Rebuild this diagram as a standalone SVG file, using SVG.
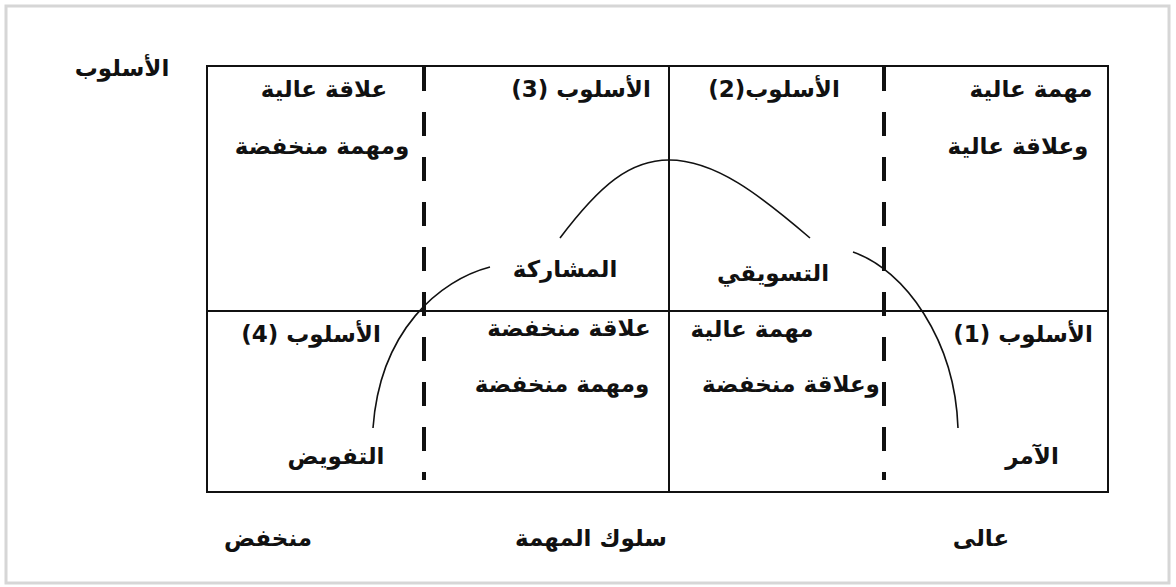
<svg xmlns="http://www.w3.org/2000/svg" width="1176" height="587" viewBox="0 0 1176 587">
<style>
.t{font-family:"DejaVu Sans",sans-serif;font-weight:bold;font-size:23px;fill:#111;text-anchor:middle;direction:rtl}
.grid{stroke:#111;stroke-width:2;fill:none}
.dash{stroke:#111;stroke-width:4;stroke-dasharray:24 21;fill:none}
.curve{stroke:#111;stroke-width:1.6;fill:none}
</style>
<rect x="0" y="0" width="1176" height="587" fill="#fff"/>
<rect id="frame" x="6" y="6" width="1163" height="577" fill="#fff" stroke="#d6d6d6" stroke-width="3"/>
<g id="grid">
<rect x="207" y="66" width="901" height="426" class="grid" stroke-width="2.5"/>
<line x1="207" y1="311" x2="1108" y2="311" class="grid"/>
<line x1="669" y1="66" x2="669" y2="492" class="grid"/>
<line x1="424" y1="67" x2="424" y2="480" class="dash"/>
<line x1="884" y1="67" x2="884" y2="480" class="dash"/>
</g>
<g id="connectors">
<path class="curve" d="M560,238 C600,185 630,160 669,160 C715,160 760,195 810,238"/>
<path class="curve" d="M853,252 C905,270 955,340 958,428"/>
<path class="curve" d="M490,267 C440,280 380,330 373,428"/>
</g>
<g id="axis-y"><text class="t" x="122" y="76">الأسلوب</text></g>
<g id="q-tl">
<text class="t" x="324" y="97">علاقة عالية</text>
<text class="t" x="322" y="154">ومهمة منخفضة</text>
</g>
<g id="q-s3"><text class="t" x="581" y="97">الأسلوب (3)</text></g>
<g id="q-s2"><text class="t" x="774" y="97">الأسلوب(2)</text></g>
<g id="q-tr">
<text class="t" x="1031" y="97">مهمة عالية</text>
<text class="t" x="1018" y="154">وعلاقة عالية</text>
</g>
<g id="n-participate"><text class="t" x="565" y="277">المشاركة</text></g>
<g id="n-selling"><text class="t" x="773" y="281">التسويقي</text></g>
<g id="q-s4"><text class="t" x="311" y="342">الأسلوب (4)</text></g>
<g id="q-bl">
<text class="t" x="569" y="336">علاقة منخفضة</text>
<text class="t" x="562" y="392">ومهمة منخفضة</text>
</g>
<g id="q-br">
<text class="t" x="752" y="337">مهمة عالية</text>
<text class="t" x="791" y="392">وعلاقة  منخفضة</text>
</g>
<g id="q-s1"><text class="t" x="1023" y="342">الأسلوب (1)</text></g>
<g id="n-delegate"><text class="t" x="336" y="464">التفويض</text></g>
<g id="n-tell"><text class="t" x="1032" y="464">الآمر</text></g>
<g id="axis-x">
<text class="t" x="268" y="546">منخفض</text>
<text class="t" x="591" y="546">سلوك المهمة</text>
<text class="t" x="981" y="546">عالى</text>
</g>
</svg>
